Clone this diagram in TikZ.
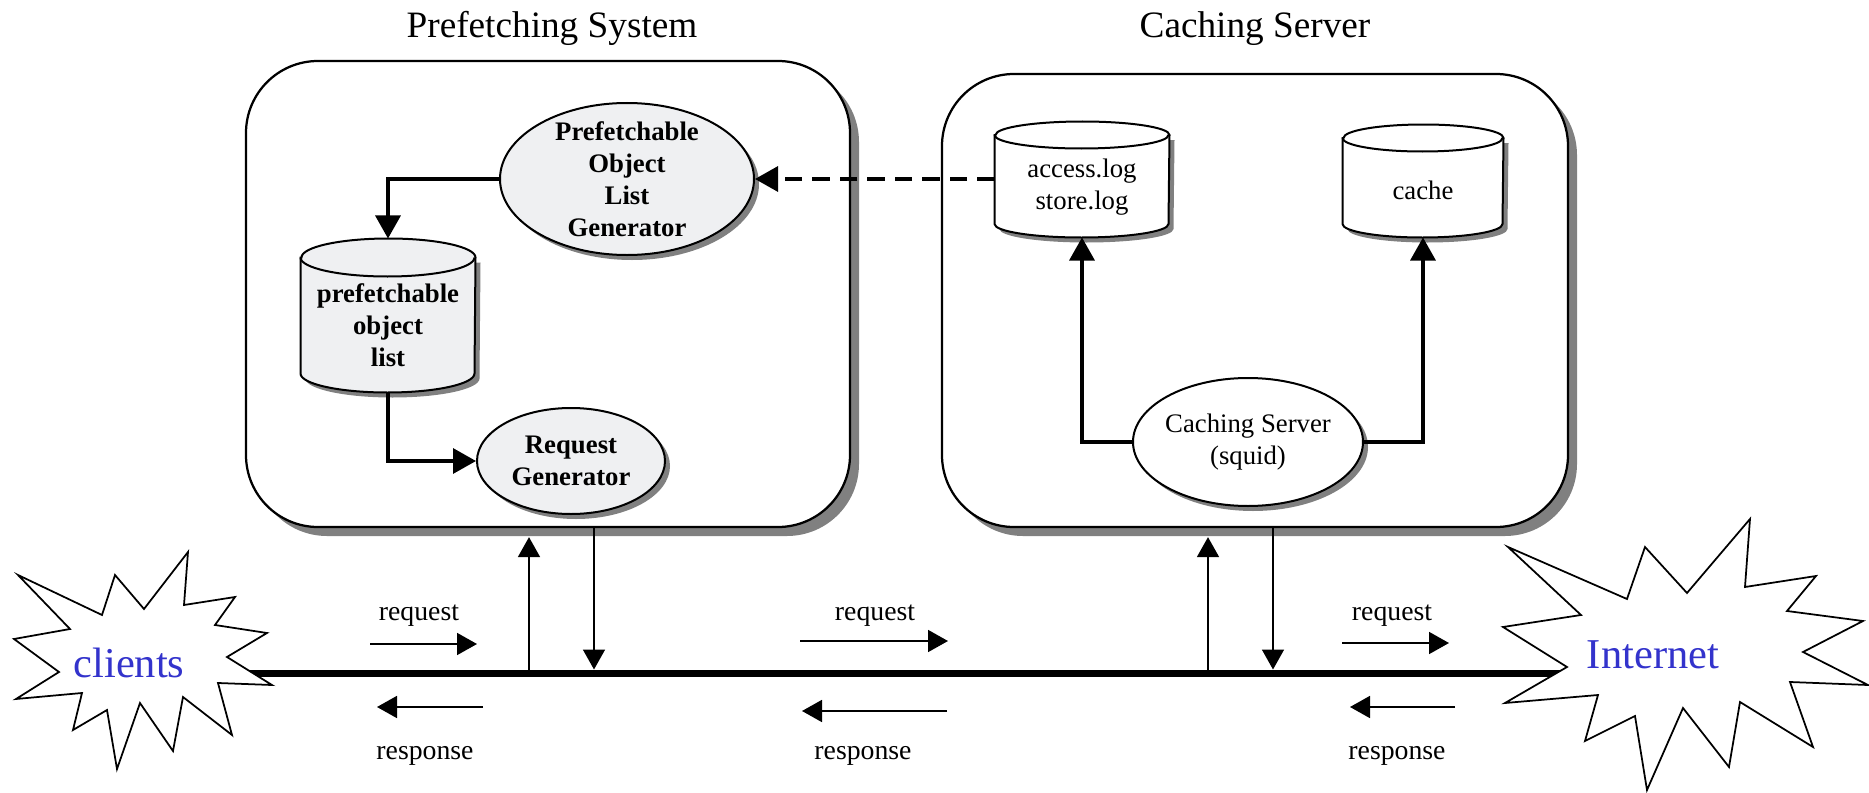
\documentclass[tikz,border=0pt]{standalone}
\usepackage{fontspec}
\setmainfont{Liberation Serif}
\usetikzlibrary{shapes.geometric,arrows.meta,shadows}
\definecolor{netblue}{RGB}{51,51,204}
\definecolor{procfill}{RGB}{239,240,242}

\begin{document}
\begin{tikzpicture}[x=0.4pt, y=-0.4pt,
  sysbox/.style={draw, line width=0.9pt, rounded corners=28.8pt, fill=white,
    drop shadow={shadow xshift=3.6pt, shadow yshift=-3.6pt, fill=black!50, opacity=1}},
  proc/.style={ellipse, draw, line width=0.8pt, inner xsep=-3pt, inner ysep=-8pt, align=center,
    drop shadow={shadow xshift=2pt, shadow yshift=-2pt, fill=black!50, opacity=1}},
  store/.style={inner sep=0pt},
  storeline/.style={draw, line width=0.8pt},
  plainfont/.style={font=\fontsize{10.7}{12.8}\selectfont},
  boldfont/.style={font=\fontsize{10.7}{12.8}\selectfont\bfseries},
  link/.style={line width=1.3pt, -{Triangle[length=9.2pt,width=10pt]}},
  wire/.style={line width=0.7pt, -{Triangle[length=8pt,width=8.8pt]}},
  lbl/.style={font=\fontsize{11.1}{13}\selectfont, anchor=base},
  title/.style={font=\fontsize{14.9}{18}\selectfont, anchor=base},
  cloudtxt/.style={font=\fontsize{17}{20}\selectfont, text=netblue, anchor=base},
  burst/.style={draw, line width=0.7pt, fill=white}
]
\useasboundingbox (0,0) rectangle (1869,793);

% the two systems
\node[sysbox, minimum width=241.6pt, minimum height=186.4pt] (pfs) at (548,294) {};
\node[sysbox, minimum width=250.4pt, minimum height=181.2pt] (csv) at (1255,300.5) {};
\node[title] (pfstitle) at (552,38) {Prefetching System};
\node[title] (csvtitle) at (1255,38) {Caching Server};

% prefetching system
\node[proc, fill=procfill, boldfont, minimum width=101.6pt, minimum height=60.8pt] (polg) at (627,179) {Prefetchable\\Object\\List\\Generator};
\node[store, minimum width=69.6pt, minimum height=61.2pt] (pol) at (388,315.5) {};
\node[proc, fill=procfill, boldfont, minimum width=75.2pt, minimum height=42.4pt] (rqg) at (571,461) {Request\\Generator};

% caching server
\node[store, minimum width=69.6pt, minimum height=46pt] (alog) at (1082,179.5) {};
\node[store, minimum width=64pt, minimum height=44.8pt] (cache) at (1423,181) {};
\node[proc, fill=white, plainfont, minimum width=92pt, minimum height=51.2pt] (squid) at (1248,442) {Caching Server\\(squid)};

% cylinder outlines round the stores
\foreach \c/\rx/\ry/\f in {pol/34.8pt/7.6pt/procfill, alog/34.8pt/5.4pt/white, cache/32pt/5.4pt/white}{
  \fill[black!50] ([xshift=2pt, yshift=-2pt-\ry]\c.north west) -- ([xshift=2pt, yshift=\ry-2pt]\c.south west)
    arc[start angle=180, end angle=360, x radius=\rx, y radius=\ry]
    -- ([xshift=2pt, yshift=-2pt-\ry]\c.north east) -- cycle;
  \draw[storeline, fill=\f] ([yshift=-\ry]\c.north west) -- ([yshift=\ry]\c.south west)
    arc[start angle=180, end angle=360, x radius=\rx, y radius=\ry]
    -- ([yshift=-\ry]\c.north east)
    arc[start angle=0, end angle=180, x radius=\rx, y radius=\ry] -- cycle;
  \draw[storeline] ([yshift=-\ry]\c.north west) arc[start angle=180, end angle=360, x radius=\rx, y radius=\ry];
}
\node[boldfont, align=center, yshift=-3.8pt] (poltext) at (pol) {prefetchable\\object\\list};
\node[plainfont, align=center, yshift=-3.2pt] (alogtext) at (alog) {access.log\\store.log};
\node[plainfont, yshift=-3.6pt] (cachetext) at (cache) {cache};

\draw[link] (polg.west) -| (pol.north);
\draw[link] (pol.south) |- (rqg.west);
\draw[link, dash pattern=on 7pt off 4pt] (alog.west |- polg.east) -- (polg.east);
\draw[link] (squid.west) -| (alog.south);
\draw[link] (squid.east) -| (cache.south);

% the network
\coordinate (busL) at (200,673);
\coordinate (busR) at (1600,673);
\draw[line width=2.8pt] (busL) -- (busR);

\coordinate (pfsup) at (529,673);
\coordinate (pfsdn) at (594,673);
\coordinate (csvup) at (1208,673);
\coordinate (csvdn) at (1273,673);
\draw[wire, shorten >=3.6pt] (pfsup) -- (pfsup |- pfs.south);
\draw[wire, shorten >=1.4pt] (pfsdn |- pfs.south) -- (pfsdn);
\draw[wire, shorten >=3.6pt] (csvup) -- (csvup |- csv.south);
\draw[wire, shorten >=1.4pt] (csvdn |- csv.south) -- (csvdn);

\foreach \n/\a/\b/\y in {rq1/370/477/644, rq2/800/948/641, rq3/1342/1449/643,
                         rs1/483/377/707, rs2/947/802/711, rs3/1455/1350/707}{
  \coordinate (\n s) at (\a,\y);
  \coordinate (\n e) at (\b,\y);
  \draw[wire] (\n s) -- (\n e);
}
\node[lbl] (rq1l) at (419,620) {request};
\node[lbl] (rq2l) at (875,620) {request};
\node[lbl] (rq3l) at (1392,620) {request};
\node[lbl] (rs1l) at (425,759) {response};
\node[lbl] (rs2l) at (863,759) {response};
\node[lbl] (rs3l) at (1397,759) {response};

% clients and internet
\draw[burst] (18,575) -- (102,615) -- (115,575) -- (144,609) -- (188,552) -- (184,605)
  -- (235,597) -- (215,625) -- (267,633) -- (227,657) -- (272,685) -- (218,683)
  -- (232,735) -- (183,697) -- (173,751) -- (140,703) -- (117,769) -- (107,710)
  -- (73,730) -- (82,693) -- (16,699) -- (59,672) -- (14,639) -- (70,629) -- cycle;
\draw[burst] (1508,547) -- (1627,599) -- (1645,547) -- (1687,593) -- (1750,519) -- (1745,587)
  -- (1816,576) -- (1787,611) -- (1863,621) -- (1803,652) -- (1868,685) -- (1790,682)
  -- (1813,747) -- (1740,702) -- (1729,767) -- (1683,708) -- (1647,790) -- (1635,716)
  -- (1585,741) -- (1598,695) -- (1505,703) -- (1567,667) -- (1503,627) -- (1581,615) -- cycle;
\node[cloudtxt] (clients) at (129,677) {clients};
\node[cloudtxt] (internet) at (1653,668) {Internet};
\end{tikzpicture}
\end{document}
